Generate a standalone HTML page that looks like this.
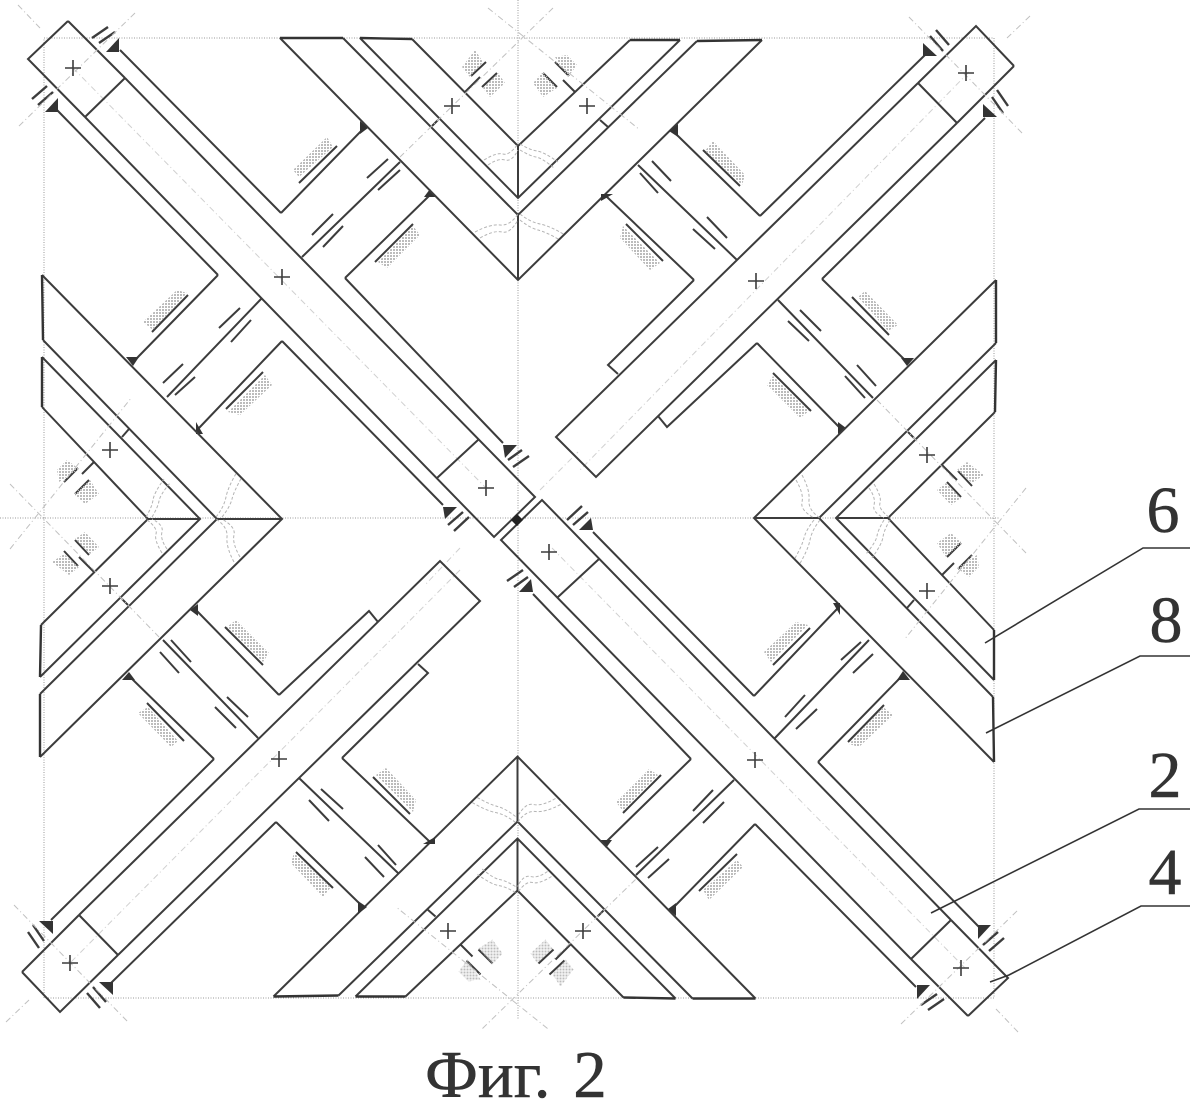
<!DOCTYPE html>
<html><head><meta charset="utf-8"><style>
html,body{margin:0;padding:0;background:#fff;width:1196px;height:1106px;overflow:hidden}
svg{display:block}
text{font-family:"Liberation Serif","Noto Serif CJK SC",serif;fill:#333;stroke:#333;stroke-width:.5}
</style></head><body>
<svg width="1196" height="1106" viewBox="0 0 1196 1106" xmlns="http://www.w3.org/2000/svg">
<defs>
<pattern id="h" width="3" height="3" patternUnits="userSpaceOnUse"><rect width="2" height="2" fill="#bcbcbc"/></pattern>
<g id="bar" fill="none" stroke="#3c3c3c" stroke-width="2">
 <path d="M68 21L28 59L85 117M68 21L125 78M125 78L85 117"/>
 <path d="M120 50L281 213M57 110L218 275"/>
 <path d="M365 127L281 213M400 162L302 257M430 195L345 278"/>
 <path d="M299 183L337 146M375 262L413 224"/>
 <path d="M218 275L137 358M262 298L167 397M282 341L199 428"/>
 <path d="M152 332L188 295M226 409L263 372"/>
 <path d="M367 178L388 159M378 190L400 170M312 235L333 214M323 247L343 226"/>
 <path d="M219 328L240 308M231 342L251 320M163 383L183 364M175 395L195 377"/>
 <path d="M92 38L108 27M99 43L115 32M32 99L47 86M38 105L53 92" stroke-width="2.4"/>
 <g stroke="none" fill="url(#h)">
  <polygon points="293,170 327,137 333,147 299,177"/>
  <polygon points="378,262 413,226 420,235 387,268"/>
  <polygon points="143,322 177,290 187,293 153,330"/>
  <polygon points="228,412 265,375 272,385 240,415"/>
 </g>
 <g fill="#333" stroke="none">
  <polygon points="106,52 119,38 119,52"/>
  <polygon points="45,112 58,98 58,112"/>
  <polygon points="360,121 368,128 360,134"/>
  <polygon points="424,197 436,197 430,189"/>
  <polygon points="126,357 139,357 133,366"/>
  <polygon points="196,422 203,434 196,434"/>
 </g>
 <g stroke="#c0c0c0" stroke-width="1" stroke-dasharray="6 3 1 3">
  <path d="M135 13L18 127M18 5L40 28"/>
 </g>
</g>
<g id="chev" fill="none" stroke="#3c3c3c" stroke-width="2">
 <path d="M280 38L518 280L762 40M343 38L518 215L697 41M360 38L518 198L680 40M412 39L518 146L630 40"/>
 <path d="M518 146L518 198M518 215L518 280M432 126L438 120M600 120L608 127M465 92L480 77M575 92L563 80"/>
 <path d="M280 38L343 38M360 38L412 39M630 40L680 40M697 41L762 40" stroke="#333" stroke-width="2.4"/>
 <path d="M471 76L486 62M482 87L497 73M543 73L557 87M555 62L569 76"/>
 <g stroke="none" fill="url(#h)">
  <polygon points="462,67 475,50 483,62 470,77"/>
  <polygon points="483,88 498,73 505,83 490,97"/>
  <polygon points="533,83 543,72 557,88 543,97"/>
  <polygon points="555,57 567,55 577,65 568,77"/>
 </g>
 <g stroke="#b4b4b4" stroke-width="1" stroke-dasharray="3 2">
  <path d="M484 160Q497 152 503 154T518 144M488 165Q498 158 505 160T518 150"/>
  <path d="M520 144Q530 150 537 151T558 162M520 150Q530 156 536 157T554 168"/>
  <path d="M475 232Q490 224 500 225T518 214M480 238Q494 230 502 232T518 220"/>
  <path d="M520 214Q530 222 540 224T565 235M520 220Q530 228 538 230T560 240"/>
 </g>
 <g stroke="#c0c0c0" stroke-width="1" stroke-dasharray="6 3 1 3">
  <path d="M553 8L400 157M488 8L640 130"/>
 </g>
</g>
<g id="capEnd" fill="none" stroke="#3c3c3c" stroke-width="2">
 <path d="M125 78L535 497L494 537L85 117M478 440L437 478M345 278L503 443M282 341L443 505"/>
 <path d="M508 460L522 450M513 467L529 456M448 525L463 512M454 531L469 517" stroke-width="2.4"/>
 <polygon points="503,445 517,445 505,458" fill="#333" stroke="none"/>
 <polygon points="443,507 457,507 445,519" fill="#333" stroke="none"/>
</g>
<g id="tabEnd" fill="none" stroke="#3c3c3c" stroke-width="2">
 <path d="M125 78L479 439L439 479L85 117M345 278L429 368L418 377M282 341L367 427L376 417"/>
</g>
</defs>
<g fill="none" stroke="#999" stroke-width="1" stroke-dasharray="1 1.5">
 <rect x="44" y="38" width="950" height="960"/>
 <path d="M0 518L1000 518M518 0L518 1020"/>
</g>
<g stroke="#d0d0d0" stroke-width="1" stroke-dasharray="6 3 1 3" fill="none">
 <path d="M73 68L486 488M552 548L965 968M969 72L580 470M460 570L70 963M540 490L578 452M460 548L425 585"/>
</g>
<use href="#bar"/><use href="#capEnd"/><use href="#chev"/>
<g transform="translate(-2 -1) rotate(90 519 518)"><use href="#bar"/><use href="#tabEnd"/></g>
<g transform="translate(-3 1) rotate(90 519 518)"><use href="#chev"/></g>
<g transform="translate(-2 1) rotate(180 519 518)"><use href="#bar"/><use href="#capEnd"/></g>
<g transform="translate(-2.5 .5) rotate(180 519 518)"><use href="#chev"/></g>
<g transform="translate(0 3) rotate(270 519 518)"><use href="#bar"/><use href="#tabEnd"/></g>
<g transform="translate(1 0) rotate(270 519 518)"><use href="#chev"/></g>
<polygon points="517,514 523,520 517,526 511,520" fill="#222"/>
<g stroke="#3c3c3c" stroke-width="1.6" fill="none">
 <path d="M65 68H81M73 60V76M444 106H460M452 98V114M579 106H595M587 98V114M274 277H290M282 269V285"/>
 <path d="M748 281H764M756 273V289M958 73H974M966 65V81M478 488H494M486 480V496M541 552H557M549 544V560"/>
 <path d="M271 759H287M279 751V767M747 760H763M755 752V768M62 963H78M70 955V971M953 968H969M961 960V976"/>
 <path d="M102 450H118M110 442V458M102 586H118M110 578V594M919 455H935M927 447V463M919 591H935M927 583V599"/>
 <path d="M440 931H456M448 923V939M575 931H591M583 923V939"/>
</g>
<g stroke="#333" stroke-width="1.6" fill="none">
 <path d="M1190 548H1143L985 643M1190 656H1140L986 733M1190 809H1139L931 913M1190 906H1141L1009 975L990 982"/>
</g>
<g font-size="66" text-anchor="middle">
 <text x="1163" y="532">6</text>
 <text x="1166" y="642">8</text>
 <text x="1165" y="797">2</text>
 <text x="1165" y="894">4</text>
</g>
<text x="425" y="1097" font-size="67" word-spacing="6">Фиг. 2</text>
</svg>
</body></html>
